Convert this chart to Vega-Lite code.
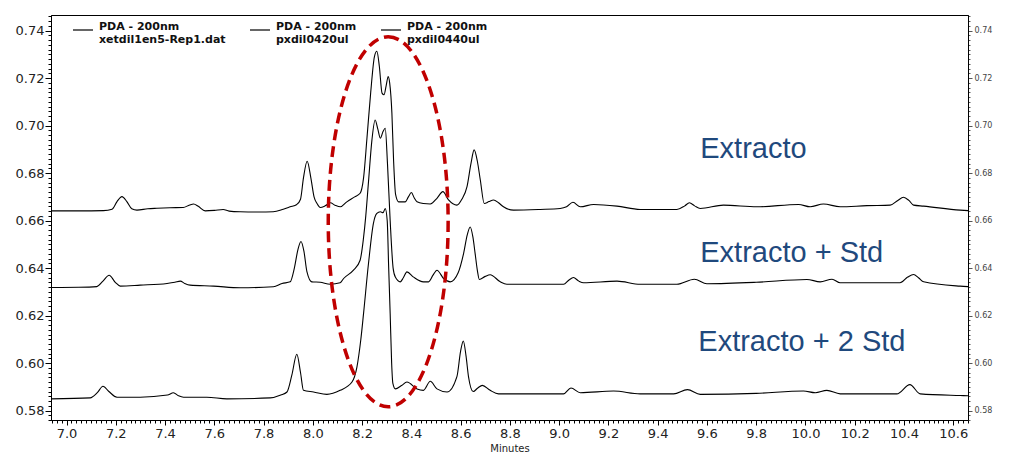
{
  "$schema": "https://vega.github.io/schema/vega-lite/v6.json",
  "width": 917,
  "height": 405,
  "autosize": {"type": "none"},
  "padding": {"left": 51, "top": 15, "right": 42, "bottom": 33},
  "background": "white",
  "config": {
    "view": {"stroke": "black", "strokeWidth": 1},
    "axis": {"domainColor": "black", "tickColor": "black", "labelColor": "#222222", "labelFont": "DejaVu Sans", "grid": false}
  },
  "datasets": {
    "traces": [
      {"series": "xetdil1en5-Rep1.dat", "t": 6.937, "v": 0.6641},
      {"series": "xetdil1en5-Rep1.dat", "t": 7.05, "v": 0.6641},
      {"series": "xetdil1en5-Rep1.dat", "t": 7.15, "v": 0.6642},
      {"series": "xetdil1en5-Rep1.dat", "t": 7.185, "v": 0.6648},
      {"series": "xetdil1en5-Rep1.dat", "t": 7.205, "v": 0.668},
      {"series": "xetdil1en5-Rep1.dat", "t": 7.225, "v": 0.6701},
      {"series": "xetdil1en5-Rep1.dat", "t": 7.245, "v": 0.668},
      {"series": "xetdil1en5-Rep1.dat", "t": 7.265, "v": 0.665},
      {"series": "xetdil1en5-Rep1.dat", "t": 7.286, "v": 0.6644},
      {"series": "xetdil1en5-Rep1.dat", "t": 7.33, "v": 0.665},
      {"series": "xetdil1en5-Rep1.dat", "t": 7.367, "v": 0.6652},
      {"series": "xetdil1en5-Rep1.dat", "t": 7.42, "v": 0.6654},
      {"series": "xetdil1en5-Rep1.dat", "t": 7.474, "v": 0.6655},
      {"series": "xetdil1en5-Rep1.dat", "t": 7.5, "v": 0.6666},
      {"series": "xetdil1en5-Rep1.dat", "t": 7.516, "v": 0.667},
      {"series": "xetdil1en5-Rep1.dat", "t": 7.535, "v": 0.666},
      {"series": "xetdil1en5-Rep1.dat", "t": 7.563, "v": 0.6641},
      {"series": "xetdil1en5-Rep1.dat", "t": 7.6, "v": 0.6643},
      {"series": "xetdil1en5-Rep1.dat", "t": 7.636, "v": 0.6647},
      {"series": "xetdil1en5-Rep1.dat", "t": 7.66, "v": 0.664},
      {"series": "xetdil1en5-Rep1.dat", "t": 7.705, "v": 0.6637},
      {"series": "xetdil1en5-Rep1.dat", "t": 7.78, "v": 0.6636},
      {"series": "xetdil1en5-Rep1.dat", "t": 7.839, "v": 0.6637},
      {"series": "xetdil1en5-Rep1.dat", "t": 7.88, "v": 0.6648},
      {"series": "xetdil1en5-Rep1.dat", "t": 7.908, "v": 0.6658},
      {"series": "xetdil1en5-Rep1.dat", "t": 7.935, "v": 0.6668},
      {"series": "xetdil1en5-Rep1.dat", "t": 7.95, "v": 0.669},
      {"series": "xetdil1en5-Rep1.dat", "t": 7.962, "v": 0.678},
      {"series": "xetdil1en5-Rep1.dat", "t": 7.977, "v": 0.685},
      {"series": "xetdil1en5-Rep1.dat", "t": 7.992, "v": 0.678},
      {"series": "xetdil1en5-Rep1.dat", "t": 8.005, "v": 0.67},
      {"series": "xetdil1en5-Rep1.dat", "t": 8.017, "v": 0.6672},
      {"series": "xetdil1en5-Rep1.dat", "t": 8.03, "v": 0.6655},
      {"series": "xetdil1en5-Rep1.dat", "t": 8.05, "v": 0.6662},
      {"series": "xetdil1en5-Rep1.dat", "t": 8.071, "v": 0.6675},
      {"series": "xetdil1en5-Rep1.dat", "t": 8.09, "v": 0.6665},
      {"series": "xetdil1en5-Rep1.dat", "t": 8.112, "v": 0.6658},
      {"series": "xetdil1en5-Rep1.dat", "t": 8.138, "v": 0.6679},
      {"series": "xetdil1en5-Rep1.dat", "t": 8.17, "v": 0.67},
      {"series": "xetdil1en5-Rep1.dat", "t": 8.192, "v": 0.6715},
      {"series": "xetdil1en5-Rep1.dat", "t": 8.206, "v": 0.678},
      {"series": "xetdil1en5-Rep1.dat", "t": 8.22, "v": 0.695},
      {"series": "xetdil1en5-Rep1.dat", "t": 8.235, "v": 0.714},
      {"series": "xetdil1en5-Rep1.dat", "t": 8.25, "v": 0.729},
      {"series": "xetdil1en5-Rep1.dat", "t": 8.26, "v": 0.7313},
      {"series": "xetdil1en5-Rep1.dat", "t": 8.27, "v": 0.725},
      {"series": "xetdil1en5-Rep1.dat", "t": 8.281, "v": 0.7137},
      {"series": "xetdil1en5-Rep1.dat", "t": 8.289, "v": 0.713},
      {"series": "xetdil1en5-Rep1.dat", "t": 8.298, "v": 0.717},
      {"series": "xetdil1en5-Rep1.dat", "t": 8.306, "v": 0.7207},
      {"series": "xetdil1en5-Rep1.dat", "t": 8.312, "v": 0.718},
      {"series": "xetdil1en5-Rep1.dat", "t": 8.321, "v": 0.7053},
      {"series": "xetdil1en5-Rep1.dat", "t": 8.328, "v": 0.685},
      {"series": "xetdil1en5-Rep1.dat", "t": 8.336, "v": 0.671},
      {"series": "xetdil1en5-Rep1.dat", "t": 8.348, "v": 0.6679},
      {"series": "xetdil1en5-Rep1.dat", "t": 8.375, "v": 0.6679},
      {"series": "xetdil1en5-Rep1.dat", "t": 8.388, "v": 0.67},
      {"series": "xetdil1en5-Rep1.dat", "t": 8.4, "v": 0.6718},
      {"series": "xetdil1en5-Rep1.dat", "t": 8.412, "v": 0.6695},
      {"series": "xetdil1en5-Rep1.dat", "t": 8.423, "v": 0.6679},
      {"series": "xetdil1en5-Rep1.dat", "t": 8.449, "v": 0.6672},
      {"series": "xetdil1en5-Rep1.dat", "t": 8.477, "v": 0.667},
      {"series": "xetdil1en5-Rep1.dat", "t": 8.504, "v": 0.6694},
      {"series": "xetdil1en5-Rep1.dat", "t": 8.528, "v": 0.6722},
      {"series": "xetdil1en5-Rep1.dat", "t": 8.551, "v": 0.6687},
      {"series": "xetdil1en5-Rep1.dat", "t": 8.585, "v": 0.6665},
      {"series": "xetdil1en5-Rep1.dat", "t": 8.605, "v": 0.669},
      {"series": "xetdil1en5-Rep1.dat", "t": 8.626, "v": 0.6743},
      {"series": "xetdil1en5-Rep1.dat", "t": 8.642, "v": 0.684},
      {"series": "xetdil1en5-Rep1.dat", "t": 8.655, "v": 0.6898},
      {"series": "xetdil1en5-Rep1.dat", "t": 8.668, "v": 0.685},
      {"series": "xetdil1en5-Rep1.dat", "t": 8.68, "v": 0.6771},
      {"series": "xetdil1en5-Rep1.dat", "t": 8.696, "v": 0.6672},
      {"series": "xetdil1en5-Rep1.dat", "t": 8.715, "v": 0.668},
      {"series": "xetdil1en5-Rep1.dat", "t": 8.734, "v": 0.6687},
      {"series": "xetdil1en5-Rep1.dat", "t": 8.754, "v": 0.6675},
      {"series": "xetdil1en5-Rep1.dat", "t": 8.774, "v": 0.6658},
      {"series": "xetdil1en5-Rep1.dat", "t": 8.815, "v": 0.6644},
      {"series": "xetdil1en5-Rep1.dat", "t": 8.923, "v": 0.6647},
      {"series": "xetdil1en5-Rep1.dat", "t": 9.004, "v": 0.6651},
      {"series": "xetdil1en5-Rep1.dat", "t": 9.03, "v": 0.6658},
      {"series": "xetdil1en5-Rep1.dat", "t": 9.056, "v": 0.6677},
      {"series": "xetdil1en5-Rep1.dat", "t": 9.086, "v": 0.6658},
      {"series": "xetdil1en5-Rep1.dat", "t": 9.14, "v": 0.6668},
      {"series": "xetdil1en5-Rep1.dat", "t": 9.235, "v": 0.6661},
      {"series": "xetdil1en5-Rep1.dat", "t": 9.329, "v": 0.6647},
      {"series": "xetdil1en5-Rep1.dat", "t": 9.478, "v": 0.6647},
      {"series": "xetdil1en5-Rep1.dat", "t": 9.51, "v": 0.6662},
      {"series": "xetdil1en5-Rep1.dat", "t": 9.529, "v": 0.6675},
      {"series": "xetdil1en5-Rep1.dat", "t": 9.55, "v": 0.6662},
      {"series": "xetdil1en5-Rep1.dat", "t": 9.573, "v": 0.6651},
      {"series": "xetdil1en5-Rep1.dat", "t": 9.667, "v": 0.6665},
      {"series": "xetdil1en5-Rep1.dat", "t": 9.803, "v": 0.6658},
      {"series": "xetdil1en5-Rep1.dat", "t": 9.972, "v": 0.6668},
      {"series": "xetdil1en5-Rep1.dat", "t": 10.019, "v": 0.6658},
      {"series": "xetdil1en5-Rep1.dat", "t": 10.073, "v": 0.667},
      {"series": "xetdil1en5-Rep1.dat", "t": 10.141, "v": 0.6658},
      {"series": "xetdil1en5-Rep1.dat", "t": 10.25, "v": 0.6663},
      {"series": "xetdil1en5-Rep1.dat", "t": 10.344, "v": 0.6665},
      {"series": "xetdil1en5-Rep1.dat", "t": 10.375, "v": 0.6685},
      {"series": "xetdil1en5-Rep1.dat", "t": 10.398, "v": 0.6698},
      {"series": "xetdil1en5-Rep1.dat", "t": 10.42, "v": 0.6685},
      {"series": "xetdil1en5-Rep1.dat", "t": 10.439, "v": 0.6665},
      {"series": "xetdil1en5-Rep1.dat", "t": 10.48, "v": 0.6661},
      {"series": "xetdil1en5-Rep1.dat", "t": 10.628, "v": 0.6644},
      {"series": "xetdil1en5-Rep1.dat", "t": 10.66, "v": 0.6642},

      {"series": "pxdil0420ul", "t": 6.937, "v": 0.6318},
      {"series": "pxdil0420ul", "t": 7.05, "v": 0.6319},
      {"series": "pxdil0420ul", "t": 7.123, "v": 0.6322},
      {"series": "pxdil0420ul", "t": 7.148, "v": 0.6345},
      {"series": "pxdil0420ul", "t": 7.173, "v": 0.637},
      {"series": "pxdil0420ul", "t": 7.198, "v": 0.634},
      {"series": "pxdil0420ul", "t": 7.218, "v": 0.6324},
      {"series": "pxdil0420ul", "t": 7.299, "v": 0.6328},
      {"series": "pxdil0420ul", "t": 7.408, "v": 0.6335},
      {"series": "pxdil0420ul", "t": 7.44, "v": 0.634},
      {"series": "pxdil0420ul", "t": 7.462, "v": 0.6345},
      {"series": "pxdil0420ul", "t": 7.48, "v": 0.6335},
      {"series": "pxdil0420ul", "t": 7.502, "v": 0.6328},
      {"series": "pxdil0420ul", "t": 7.597, "v": 0.6324},
      {"series": "pxdil0420ul", "t": 7.705, "v": 0.6317},
      {"series": "pxdil0420ul", "t": 7.84, "v": 0.6321},
      {"series": "pxdil0420ul", "t": 7.875, "v": 0.6335},
      {"series": "pxdil0420ul", "t": 7.908, "v": 0.6342},
      {"series": "pxdil0420ul", "t": 7.925, "v": 0.64},
      {"series": "pxdil0420ul", "t": 7.94, "v": 0.648},
      {"series": "pxdil0420ul", "t": 7.952, "v": 0.6512},
      {"series": "pxdil0420ul", "t": 7.964, "v": 0.647},
      {"series": "pxdil0420ul", "t": 7.976, "v": 0.6385},
      {"series": "pxdil0420ul", "t": 7.996, "v": 0.6342},
      {"series": "pxdil0420ul", "t": 8.03, "v": 0.634},
      {"series": "pxdil0420ul", "t": 8.071, "v": 0.6332},
      {"series": "pxdil0420ul", "t": 8.111, "v": 0.6338},
      {"series": "pxdil0420ul", "t": 8.125, "v": 0.6356},
      {"series": "pxdil0420ul", "t": 8.165, "v": 0.6391},
      {"series": "pxdil0420ul", "t": 8.192, "v": 0.6433},
      {"series": "pxdil0420ul", "t": 8.205, "v": 0.652},
      {"series": "pxdil0420ul", "t": 8.215, "v": 0.662},
      {"series": "pxdil0420ul", "t": 8.226, "v": 0.6763},
      {"series": "pxdil0420ul", "t": 8.24, "v": 0.694},
      {"series": "pxdil0420ul", "t": 8.253, "v": 0.7024},
      {"series": "pxdil0420ul", "t": 8.264, "v": 0.6985},
      {"series": "pxdil0420ul", "t": 8.274, "v": 0.6947},
      {"series": "pxdil0420ul", "t": 8.285, "v": 0.6975},
      {"series": "pxdil0420ul", "t": 8.294, "v": 0.6989},
      {"series": "pxdil0420ul", "t": 8.303, "v": 0.6842},
      {"series": "pxdil0420ul", "t": 8.314, "v": 0.66},
      {"series": "pxdil0420ul", "t": 8.326, "v": 0.64},
      {"series": "pxdil0420ul", "t": 8.335, "v": 0.6362},
      {"series": "pxdil0420ul", "t": 8.355, "v": 0.6342},
      {"series": "pxdil0420ul", "t": 8.368, "v": 0.636},
      {"series": "pxdil0420ul", "t": 8.382, "v": 0.6384},
      {"series": "pxdil0420ul", "t": 8.409, "v": 0.6362},
      {"series": "pxdil0420ul", "t": 8.449, "v": 0.6342},
      {"series": "pxdil0420ul", "t": 8.47, "v": 0.6342},
      {"series": "pxdil0420ul", "t": 8.488, "v": 0.637},
      {"series": "pxdil0420ul", "t": 8.504, "v": 0.6391},
      {"series": "pxdil0420ul", "t": 8.531, "v": 0.6356},
      {"series": "pxdil0420ul", "t": 8.558, "v": 0.6342},
      {"series": "pxdil0420ul", "t": 8.59, "v": 0.638},
      {"series": "pxdil0420ul", "t": 8.612, "v": 0.6461},
      {"series": "pxdil0420ul", "t": 8.627, "v": 0.654},
      {"series": "pxdil0420ul", "t": 8.639, "v": 0.6573},
      {"series": "pxdil0420ul", "t": 8.65, "v": 0.653},
      {"series": "pxdil0420ul", "t": 8.659, "v": 0.6461},
      {"series": "pxdil0420ul", "t": 8.668, "v": 0.639},
      {"series": "pxdil0420ul", "t": 8.676, "v": 0.6352},
      {"series": "pxdil0420ul", "t": 8.7, "v": 0.6365},
      {"series": "pxdil0420ul", "t": 8.72, "v": 0.6372},
      {"series": "pxdil0420ul", "t": 8.761, "v": 0.6342},
      {"series": "pxdil0420ul", "t": 8.788, "v": 0.6332},
      {"series": "pxdil0420ul", "t": 8.923, "v": 0.6332},
      {"series": "pxdil0420ul", "t": 9.018, "v": 0.6332},
      {"series": "pxdil0420ul", "t": 9.04, "v": 0.635},
      {"series": "pxdil0420ul", "t": 9.058, "v": 0.636},
      {"series": "pxdil0420ul", "t": 9.08, "v": 0.6345},
      {"series": "pxdil0420ul", "t": 9.099, "v": 0.6338},
      {"series": "pxdil0420ul", "t": 9.235, "v": 0.6345},
      {"series": "pxdil0420ul", "t": 9.329, "v": 0.6332},
      {"series": "pxdil0420ul", "t": 9.478, "v": 0.6332},
      {"series": "pxdil0420ul", "t": 9.549, "v": 0.6353},
      {"series": "pxdil0420ul", "t": 9.6, "v": 0.6334},
      {"series": "pxdil0420ul", "t": 9.8, "v": 0.634},
      {"series": "pxdil0420ul", "t": 10.006, "v": 0.6352},
      {"series": "pxdil0420ul", "t": 10.06, "v": 0.6342},
      {"series": "pxdil0420ul", "t": 10.108, "v": 0.6353},
      {"series": "pxdil0420ul", "t": 10.141, "v": 0.6338},
      {"series": "pxdil0420ul", "t": 10.384, "v": 0.6338},
      {"series": "pxdil0420ul", "t": 10.415, "v": 0.6362},
      {"series": "pxdil0420ul", "t": 10.439, "v": 0.6373},
      {"series": "pxdil0420ul", "t": 10.46, "v": 0.6358},
      {"series": "pxdil0420ul", "t": 10.48, "v": 0.6342},
      {"series": "pxdil0420ul", "t": 10.628, "v": 0.6324},
      {"series": "pxdil0420ul", "t": 10.66, "v": 0.6322},

      {"series": "pxdil0440ul", "t": 6.937, "v": 0.5849},
      {"series": "pxdil0440ul", "t": 7.096, "v": 0.5853},
      {"series": "pxdil0440ul", "t": 7.125, "v": 0.5875},
      {"series": "pxdil0440ul", "t": 7.148, "v": 0.5902},
      {"series": "pxdil0440ul", "t": 7.172, "v": 0.588},
      {"series": "pxdil0440ul", "t": 7.205, "v": 0.5856},
      {"series": "pxdil0440ul", "t": 7.299, "v": 0.5856},
      {"series": "pxdil0440ul", "t": 7.41, "v": 0.5865},
      {"series": "pxdil0440ul", "t": 7.434, "v": 0.5875},
      {"series": "pxdil0440ul", "t": 7.455, "v": 0.5862},
      {"series": "pxdil0440ul", "t": 7.475, "v": 0.5856},
      {"series": "pxdil0440ul", "t": 7.57, "v": 0.5856},
      {"series": "pxdil0440ul", "t": 7.651, "v": 0.5849},
      {"series": "pxdil0440ul", "t": 7.827, "v": 0.5853},
      {"series": "pxdil0440ul", "t": 7.87, "v": 0.5865},
      {"series": "pxdil0440ul", "t": 7.895, "v": 0.5878},
      {"series": "pxdil0440ul", "t": 7.915, "v": 0.595},
      {"series": "pxdil0440ul", "t": 7.935, "v": 0.6037},
      {"series": "pxdil0440ul", "t": 7.95, "v": 0.596},
      {"series": "pxdil0440ul", "t": 7.962, "v": 0.5885},
      {"series": "pxdil0440ul", "t": 8.003, "v": 0.5878},
      {"series": "pxdil0440ul", "t": 8.057, "v": 0.5868},
      {"series": "pxdil0440ul", "t": 8.111, "v": 0.5885},
      {"series": "pxdil0440ul", "t": 8.159, "v": 0.592},
      {"series": "pxdil0440ul", "t": 8.179, "v": 0.5983},
      {"series": "pxdil0440ul", "t": 8.195, "v": 0.61},
      {"series": "pxdil0440ul", "t": 8.206, "v": 0.6209},
      {"series": "pxdil0440ul", "t": 8.226, "v": 0.6419},
      {"series": "pxdil0440ul", "t": 8.246, "v": 0.6588},
      {"series": "pxdil0440ul", "t": 8.26, "v": 0.663},
      {"series": "pxdil0440ul", "t": 8.274, "v": 0.6637},
      {"series": "pxdil0440ul", "t": 8.285, "v": 0.6633},
      {"series": "pxdil0440ul", "t": 8.294, "v": 0.6651},
      {"series": "pxdil0440ul", "t": 8.302, "v": 0.66},
      {"series": "pxdil0440ul", "t": 8.308, "v": 0.64},
      {"series": "pxdil0440ul", "t": 8.314, "v": 0.6209},
      {"series": "pxdil0440ul", "t": 8.32, "v": 0.6},
      {"series": "pxdil0440ul", "t": 8.325, "v": 0.5914},
      {"series": "pxdil0440ul", "t": 8.335, "v": 0.5891},
      {"series": "pxdil0440ul", "t": 8.36, "v": 0.5905},
      {"series": "pxdil0440ul", "t": 8.382, "v": 0.592},
      {"series": "pxdil0440ul", "t": 8.423, "v": 0.5891},
      {"series": "pxdil0440ul", "t": 8.449, "v": 0.5885},
      {"series": "pxdil0440ul", "t": 8.477, "v": 0.5923},
      {"series": "pxdil0440ul", "t": 8.504, "v": 0.5891},
      {"series": "pxdil0440ul", "t": 8.545, "v": 0.5878},
      {"series": "pxdil0440ul", "t": 8.585, "v": 0.5943},
      {"series": "pxdil0440ul", "t": 8.6, "v": 0.605},
      {"series": "pxdil0440ul", "t": 8.611, "v": 0.6093},
      {"series": "pxdil0440ul", "t": 8.622, "v": 0.603},
      {"series": "pxdil0440ul", "t": 8.632, "v": 0.5943},
      {"series": "pxdil0440ul", "t": 8.651, "v": 0.588},
      {"series": "pxdil0440ul", "t": 8.67, "v": 0.5895},
      {"series": "pxdil0440ul", "t": 8.688, "v": 0.5906},
      {"series": "pxdil0440ul", "t": 8.72, "v": 0.5885},
      {"series": "pxdil0440ul", "t": 8.754, "v": 0.587},
      {"series": "pxdil0440ul", "t": 8.923, "v": 0.587},
      {"series": "pxdil0440ul", "t": 9.018, "v": 0.587},
      {"series": "pxdil0440ul", "t": 9.048, "v": 0.5895},
      {"series": "pxdil0440ul", "t": 9.086, "v": 0.5875},
      {"series": "pxdil0440ul", "t": 9.221, "v": 0.5882},
      {"series": "pxdil0440ul", "t": 9.329, "v": 0.587},
      {"series": "pxdil0440ul", "t": 9.465, "v": 0.587},
      {"series": "pxdil0440ul", "t": 9.521, "v": 0.5888},
      {"series": "pxdil0440ul", "t": 9.573, "v": 0.5868},
      {"series": "pxdil0440ul", "t": 9.8, "v": 0.5872},
      {"series": "pxdil0440ul", "t": 9.992, "v": 0.5882},
      {"series": "pxdil0440ul", "t": 10.04, "v": 0.5875},
      {"series": "pxdil0440ul", "t": 10.087, "v": 0.5885},
      {"series": "pxdil0440ul", "t": 10.141, "v": 0.587},
      {"series": "pxdil0440ul", "t": 10.371, "v": 0.587},
      {"series": "pxdil0440ul", "t": 10.424, "v": 0.5909},
      {"series": "pxdil0440ul", "t": 10.466, "v": 0.587},
      {"series": "pxdil0440ul", "t": 10.628, "v": 0.5863},
      {"series": "pxdil0440ul", "t": 10.66, "v": 0.5862}
    ],
    "labels": [
      {"label": "Extracto", "t": 9.573, "v": 0.6864},
      {"label": "Extracto + Std", "t": 9.573, "v": 0.6426},
      {"label": "Extracto + 2 Std", "t": 9.565, "v": 0.6049}
    ],
    "region": [
      {"name": "zona", "t": 8.306, "v": 0.6595}
    ]
  },
  "encoding": {
    "x": {
      "field": "t",
      "type": "quantitative",
      "scale": {"domain": [6.937, 10.66], "nice": false, "zero": false},
      "axis": {
        "title": "Minutes",
        "titleFont": "DejaVu Sans",
        "titleFontSize": 10,
        "titleFontWeight": "normal",
        "titleColor": "#222222",
        "titlePadding": 3,
        "tickCount": 187,
        "labelExpr": "abs(datum.value*5 - round(datum.value*5)) < 0.01 ? format(datum.value, '.1f') : ''",
        "labelOverlap": false,
        "labelBound": false,
        "labelFlush": false,
        "labelFontSize": 13,
        "labelPadding": 2,
        "tickSize": {"condition": {"test": "abs(datum.value*5 - round(datum.value*5)) < 0.01", "value": 5}, "value": 3}
      }
    }
  },
  "layer": [
    {
      "data": {"name": "traces"},
      "mark": {"type": "line", "interpolate": "monotone", "strokeWidth": 1.1},
      "encoding": {
        "y": {
          "field": "v",
          "type": "quantitative",
          "scale": {"domain": [0.576, 0.7466], "nice": false, "zero": false},
          "axis": {
            "orient": "left",
            "title": null,
            "tickCount": 85,
            "labelExpr": "abs(datum.value*50 - round(datum.value*50)) < 0.01 ? format(datum.value, '.2f') : ''",
            "labelOverlap": false,
            "labelBound": false,
            "labelFlush": false,
            "labelFontSize": 13,
            "labelPadding": 1,
            "tickSize": {"condition": {"test": "abs(datum.value*50 - round(datum.value*50)) < 0.01", "value": 6}, "value": 3}
          }
        },
        "color": {
          "field": "series",
          "type": "nominal",
          "scale": {"domain": ["xetdil1en5-Rep1.dat", "pxdil0420ul", "pxdil0440ul"], "range": ["#000000", "#000000", "#000000"]},
          "legend": {
            "title": null,
            "orient": "none",
            "legendX": 21,
            "legendY": 4,
            "direction": "horizontal",
            "columns": 3,
            "columnPadding": 21,
            "symbolType": "stroke",
            "symbolSize": 400,
            "symbolStrokeWidth": 1.2,
            "labelFont": "DejaVu Sans",
            "labelFontWeight": "bold",
            "labelFontSize": 11,
            "labelLineHeight": 11,
            "labelBaseline": "alphabetic",
            "labelColor": "#111111",
            "labelOffset": 5,
            "labelLimit": 0,
            "labelExpr": "['PDA - 200nm', datum.label]"
          }
        }
      }
    },
    {
      "data": {"name": "labels"},
      "mark": {"type": "text", "align": "left", "baseline": "alphabetic", "font": "Liberation Sans", "fontSize": 29, "color": "#1F497D"},
      "encoding": {
        "y": {
          "field": "v",
          "type": "quantitative",
          "scale": {"domain": [0.576, 0.7466], "nice": false, "zero": false},
          "axis": {
            "orient": "right",
            "title": null,
            "tickCount": 85,
            "labelExpr": "abs(datum.value*50 - round(datum.value*50)) < 0.01 ? format(datum.value, '.2f') : ''",
            "labelOverlap": false,
            "labelBound": false,
            "labelFlush": false,
            "labelFontSize": 8,
            "labelColor": "#444444",
            "labelPadding": 2,
            "tickColor": "#555555",
            "tickSize": {"condition": {"test": "abs(datum.value*50 - round(datum.value*50)) < 0.01", "value": 4}, "value": 2}
          }
        },
        "text": {"field": "label", "type": "nominal"}
      }
    },
    {
      "data": {"name": "region"},
      "mark": {
        "type": "point",
        "shape": "M0,-1C0.179,-1 0.324,-0.552 0.324,0C0.324,0.552 0.179,1 0,1C-0.179,1 -0.324,0.552 -0.324,0C-0.324,-0.552 -0.179,-1 0,-1Z",
        "size": 136900,
        "filled": false,
        "fill": null,
        "stroke": "#C00000",
        "strokeWidth": 3.5,
        "strokeDash": [11, 6],
        "opacity": 1
      },
      "encoding": {
        "y": {
          "field": "v",
          "type": "quantitative",
          "scale": {"domain": [0.576, 0.7466], "nice": false, "zero": false},
          "axis": null
        }
      }
    }
  ],
  "resolve": {"axis": {"y": "independent"}}
}
